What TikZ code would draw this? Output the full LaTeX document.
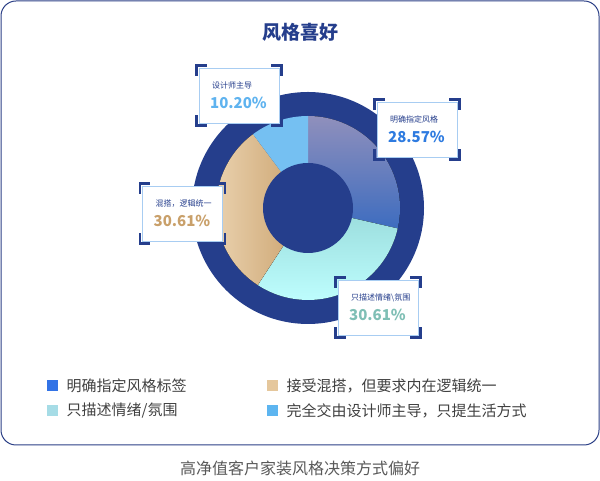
\documentclass[tikz,border=0pt]{standalone}
\usepackage{fontspec}
\setmainfont{Noto Sans CJK SC}
\usepackage{tikz}
\usetikzlibrary{calc}

\definecolor{navy}{HTML}{253E8C}
\definecolor{framecol}{HTML}{2B3F86}
\definecolor{boxline}{HTML}{A8CDF2}
\definecolor{pblue}{HTML}{2E7BE0}
\definecolor{plight}{HTML}{5FB3EF}
\definecolor{ptan}{HTML}{C9A06A}
\definecolor{pteal}{HTML}{7FBFB5}
\definecolor{lblue}{HTML}{3273E6}
\definecolor{ltan}{HTML}{E5C79C}
\definecolor{lcyan}{HTML}{A6DCE6}
\definecolor{lsky}{HTML}{5DB5F0}

\tikzset{
  tagbox/.style={draw=boxline,fill=white,line width=0.8pt,minimum width=80pt,minimum height=55pt,inner sep=0pt},
  bracket/.style={navy,line width=2.5pt},
  legsq/.style={minimum size=11pt,inner sep=0pt},
  legtxt/.style={anchor=west,font=\fontsize{15}{15}\selectfont,text=black!75},
}

\newcommand{\tagcorners}[1]{%
  \draw[bracket] ($(#1.north west)+(-2,-8)$)--($(#1.north west)+(-2,2)$)--($(#1.north west)+(8,2)$);
  \draw[bracket] ($(#1.north east)+(-8,2)$)--($(#1.north east)+(2,2)$)--($(#1.north east)+(2,-8)$);
  \draw[bracket] ($(#1.south west)+(-2,8)$)--($(#1.south west)+(-2,-2)$)--($(#1.south west)+(8,-2)$);
  \draw[bracket] ($(#1.south east)+(-8,-2)$)--($(#1.south east)+(2,-2)$)--($(#1.south east)+(2,8)$);
}

\begin{document}
\begin{tikzpicture}[x=1pt,y=1pt]
            \useasboundingbox (0,0) rectangle (600,481);
            \draw[framecol,line width=1pt,rounded corners=15pt](1,36) rectangle (599,480);
            \node (title) at (300,449){\fontsize{19}{19}\selectfont\bfseries\color{navy}风格喜好};

            % ring and slices
            \coordinate (c) at (308,273);
            \fill[navy](c) circle (116);
            \fill[top color=blue!25!gray!70,bottom color=lblue!80!black!90] (c)--($(c)+(-12.86:92)$) arc (-12.86:90:92)--cycle;
            \fill[top color=cyan!30!teal!40,bottom color=cyan!25] (c)--($(c)+(-123.1:92)$) arc (-123.1:-12.86:92)--cycle;
            \fill[left color=ltan!80,right color=ptan] (c)--($(c)+(126.7:92)$) arc (126.7:236.9:92)--cycle;
            \fill[lsky!85] (c)--($(c)+(90:92)$) arc (90:126.7:92)--cycle;
            \fill[navy](c) circle (45);

            % tags
            \node[tagbox] (tdes) at (239,385.5){};
            \node[tagbox] (tstyle) at (417,351.5){};
            \node[tagbox] (tmix) at (182.5,267.5){};
            \node[tagbox] (tmood) at (378,173.5){};
            \tagcorners{tdes}
            \tagcorners{tstyle}
            \tagcorners{tmix}
            \tagcorners{tmood}
            \node[anchor=west,font=\fontsize{8}{8}\selectfont,text=navy] at ($(tdes.west)+(10,10)$){设计师主导};
            \node[anchor=west,font=\fontsize{15}{15}\selectfont\bfseries,text=plight] at ($(tdes.west)+(8,-7)$){10.20\%};
            \node[anchor=west,font=\fontsize{8}{8}\selectfont,text=navy] at ($(tstyle.west)+(10,10)$){明确指定风格};
            \node[anchor=west,font=\fontsize{15}{15}\selectfont\bfseries,text=pblue] at ($(tstyle.west)+(8,-7)$){28.57\%};
            \node[anchor=west,font=\fontsize{8}{8}\selectfont,text=navy] at ($(tmix.west)+(10,10)$){混搭，逻辑统一};
            \node[anchor=west,font=\fontsize{15}{15}\selectfont\bfseries,text=ptan] at ($(tmix.west)+(8,-7)$){30.61\%};
            \node[anchor=west,font=\fontsize{8}{8}\selectfont,text=navy] at ($(tmood.west)+(10,10)$){只描述情绪\textbackslash 氛围};
            \node[anchor=west,font=\fontsize{15}{15}\selectfont\bfseries,text=pteal] at ($(tmood.west)+(8,-7)$){30.61\%};

            % legend
            \node[legsq,fill=lblue] (l1) at (52.5,95){};
            \node[legtxt] at ($(l1.east)+(5,0)$){明确指定风格标签};
            \node[legsq,fill=lcyan] (l2) at (52.5,70){};
            \node[legtxt] at ($(l2.east)+(5,0)$){只描述情绪/氛围};
            \node[legsq,fill=ltan] (l3) at (272.5,95){};
            \node[legtxt] at ($(l3.east)+(5,0)$){接受混搭，但要求内在逻辑统一};
            \node[legsq,fill=lsky] (l4) at (272.5,70){};
            \node[legtxt] at ($(l4.east)+(5,0)$){完全交由设计师主导，只提生活方式};

            \node[font=\fontsize{16}{16}\selectfont,text=black!65] (cap) at (300,13){高净值客户家装风格决策方式偏好};
        \end{tikzpicture}
\end{document}
